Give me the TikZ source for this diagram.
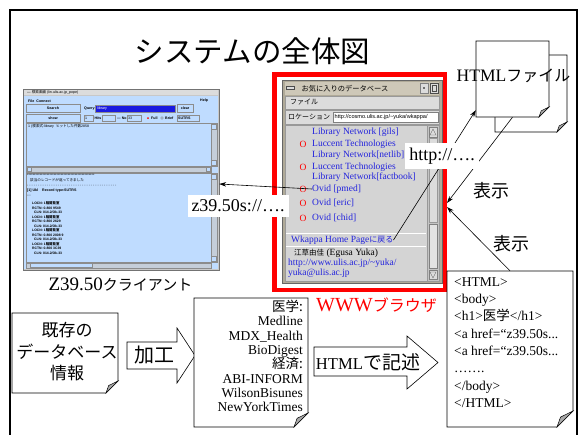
\documentclass[tikz,border=0pt]{standalone}
\usepackage{fontspec}
\setmainfont{Liberation Serif}
\newfontfamily\jp{Noto Sans CJK JP}
\newfontfamily\uisans{Liberation Sans}
\usetikzlibrary{arrows.meta}
\definecolor{clientbg}{HTML}{BFDCFF}
\definecolor{qblue}{HTML}{1A1AE0}
\definecolor{uigray}{HTML}{C8C8C8}
\definecolor{winframe}{HTML}{B0AA98}
\definecolor{titlebg}{HTML}{CEC8B8}
\definecolor{barbg}{HTML}{DCDCDC}
\definecolor{contentbg}{HTML}{D4D4D4}
\definecolor{scrollbg}{HTML}{C4C4C4}
\definecolor{linkblue}{HTML}{2222DD}
\definecolor{foldgray}{HTML}{A8A8A8}
\newcommand\cjkt[2]{{\jp\fontsize{#1}{#1}\selectfont #2}}
\newcommand\latt[2]{{\fontsize{#1}{#1}\selectfont #2}}
% name, x1, y1, x2, y2, corner
\newcommand\dogdoc[6]{%
  \filldraw[doc] (#2,#3) -- (#4,#3) -- (#4,{#5-#6}) -- ({#4-#6},#5) -- (#2,#5) -- cycle;
  \filldraw[fill=foldgray, line width=0.5pt] (#4,{#5-#6}) -- ({#4-0.78*#6},{#5-0.62*#6}) -- ({#4-#6},#5) -- cycle;
  \node[minimum width={(#4-#2)*1pt}, minimum height={(#5-#3)*1pt}] (#1) at ({(#2+#4)/2},{(#3+#5)/2}) {};
}
\begin{document}
\begin{tikzpicture}[x=1pt,y=-1pt,
  every node/.style={inner sep=0pt},
  ui/.style={font=\uisans\fontsize{3.6}{4}\selectfont},
  uib/.style={font=\uisans\bfseries\fontsize{3.6}{4}\selectfont},
  btext/.style={font=\fontsize{9.5}{10}\selectfont, text=linkblue, anchor=west},
  omark/.style={font=\fontsize{9.5}{10}\selectfont, text=red},
  arr/.style={-{Stealth[length=7pt,width=4.5pt]}, line width=0.6pt},
  lbl/.style={fill=white, inner xsep=4pt, inner ysep=5pt},
  doc/.style={draw, fill=white, line width=0.6pt},
  blockarrow/.style={draw, fill=white, line width=0.6pt},
  uibox/.style={draw=black!45, line width=0.3pt},
]
\useasboundingbox (0,0) rectangle (583,434);
\fill[white] (0,0) rectangle (583,434);

% slide frame
\draw[line width=2.5pt] (10,436) -- (10,10) -- (577,10) -- (577,436);

% title
\node (title) at (252.5,51.5) {\cjkt{29.5}{システムの全体図}};

% ---------------- Z39.50 client screenshot ----------------
\node[minimum width=196pt, minimum height=181pt] (client) at (121,179.5) {};
\fill[uigray] (23,89) rectangle (219,270);
\draw[black!55, line width=0.4pt] (23,89) rectangle (219,270);
\fill[barbg] (24,90) rectangle (218,95);
\node[ui, anchor=west] (ctitle) at (27,92.5) {— {\jp 検索画面} (lin.ulis.ac.jp\_pope)};
\fill[clientbg] (24,95.5) rectangle (218,269);
\node[uib, anchor=west] (cmenu) at (28,101) {File\ \ Connect};
\node[uib, anchor=west] (chelp) at (200,101) {Help};
\filldraw[fill=clientbg, uibox] (26,104.5) rectangle (80,112.5);
\node[uib] (csearch) at (53,108.5) {Search};
\node[uib, anchor=west] (cquery) at (84,108.5) {Query:};
\filldraw[fill=qblue, uibox] (95,105) rectangle (175,112);
\node[ui, anchor=west, text=white] (clib) at (97,108.5) {library};
\filldraw[fill=clientbg, uibox] (177,104.5) rectangle (193,112.5);
\node[uib] (cclear) at (185,108.5) {clear};
\filldraw[fill=clientbg, uibox] (26,114) rectangle (80,122);
\node[uib] (cshow) at (53,118) {show};
\filldraw[fill=clientbg, uibox] (84,115) rectangle (93,121);
\node[ui, anchor=west] (cone) at (85,118) {1};
\node[uib, anchor=west] (chits) at (94.5,118) {Hits};
\filldraw[fill=clientbg, uibox] (102,115) rectangle (115,121);
\node[uib, anchor=west] (cno) at (117,118) {— No};
\filldraw[fill=clientbg, uibox] (127,115) rectangle (141,121);
\node[ui, anchor=west] (c33) at (128,118) {33};
\fill[red] (148,118) circle (1pt);
\node[uib, anchor=west] (cfull) at (151,118) {Full};
\draw[black!50, line width=0.3pt] (162,118) circle (1.3pt);
\node[uib, anchor=west] (cbrief) at (165,118) {Brief};
\filldraw[fill=clientbg, uibox] (177,115) rectangle (199,121);
\node[uib, anchor=west] (csutrs) at (178,118) {SUTRS};
% upper text area
\filldraw[fill=clientbg, uibox] (26,123) rectangle (211,166);
\filldraw[fill=uigray!70!clientbg, uibox] (211,123) rectangle (217,166);
\filldraw[fill=clientbg, uibox] (211.5,124) rectangle (216.5,129);
\filldraw[fill=clientbg, uibox] (211.5,160) rectangle (216.5,165);
\node[ui, anchor=west] (cq1) at (28,126.5) {1 ({\jp 検索式}:library\ \ {\jp ヒットした件数}2858};
\filldraw[fill=uigray!70!clientbg, uibox] (26,167) rectangle (211,172);
\filldraw[fill=clientbg, uibox] (27,167.5) rectangle (31,171.5);
\filldraw[fill=clientbg, uibox] (206,167.5) rectangle (210,171.5);
% lower text area
\filldraw[fill=clientbg, uibox] (26,173) rectangle (211,262);
\filldraw[fill=uigray!70!clientbg, uibox] (211,173) rectangle (217,262);
\filldraw[fill=clientbg, uibox] (211.5,174) rectangle (216.5,179);
\filldraw[fill=clientbg, uibox] (211.5,256) rectangle (216.5,261);
\filldraw[fill=uigray!70!clientbg, uibox] (26,263) rectangle (211,268);
\filldraw[fill=clientbg, uibox] (30,263.5) rectangle (92,267.5);
\node[ui, anchor=west] (cl1) at (27,175.5) {************************************************};
\node[ui, anchor=west] (cl2) at (30,180.5) {{\jp 該当のレコードが返ってきました}};
\node[ui, anchor=west] (cl3) at (27,185.5) {- - - - - - - - - - - - - - - - - - - - - - - - - - - - - - - - - - - - - - - - -};
\node[uib, anchor=west] (cl4) at (27,191) {[1] Ukl\ \ \ \ Record type:SUTRS};
\node[ui, anchor=west] (cl5) at (27,196) {---};
\node[uib, anchor=west, align=left, font=\uisans\bfseries\fontsize{3.4}{4.5}\selectfont] (cl6) at (32,228) {LOCN: 1{\jp 階閲覧室}\\RCTN: 0.800 9549\\\ \ CLN: 014.2/Ok-33\\LOCN: 1{\jp 階閲覧室}\\RCTN: 0.800 2629\\\ \ CLN: 014.2/Ok-33\\LOCN: 1{\jp 階閲覧室}\\RCTN: 0.800 2008 9\\\ \ CLN: 014.2/Ok-33\\LOCN: 1{\jp 階閲覧室}\\RCTN: 0.800 3C39\\\ \ CLN: 014.2/Ok-33};

\node[anchor=center] (clientcap) at (120.5,285) {\latt{19}{Z39.50}\cjkt{15}{クライアント}};

% ---------------- WWW browser ----------------
\node[draw=red, line width=4.5pt, minimum width=170.5pt, minimum height=215.5pt] (www) at (359.5,182) {};
\node[minimum width=160pt, minimum height=203pt] (browser) at (362,181.5) {};
\fill[winframe] (282,80) rectangle (442,283);
\draw[black!60, line width=0.5pt] (282,80) rectangle (442,283);
\fill[titlebg] (285,82) rectangle (439,95);
\filldraw[fill=barbg, draw=black!70, line width=0.4pt] (286,86) rectangle (294,89.5);
\filldraw[fill=barbg, draw=black!50, line width=0.4pt] (420,83) rectangle (428,93);
\fill[black] (424,88) circle (0.9pt);
\filldraw[fill=barbg, draw=black!70, line width=0.4pt] (430,83) rectangle (438,93);
\draw[black!70, line width=0.4pt] (432,85) rectangle (436,91);
\node (btitle) at (345,88.5) {\cjkt{7.25}{お気に入りのデータベース}};
\filldraw[fill=barbg, draw=black!40, line width=0.4pt] (285,96) rectangle (439,109);
\node[anchor=west] (bmenu) at (290,102.5) {\cjkt{7}{ファイル}};
\filldraw[fill=barbg, draw=black!40, line width=0.4pt] (285,110) rectangle (439,124);
\node[anchor=west] (bloc) at (288,117) {\cjkt{7}{ロケーション}};
\filldraw[fill=white, draw=black!50, line width=0.4pt] (333,112) rectangle (438,122);
\begin{scope}
  \clip (333,112) rectangle (438,122);
  \node[anchor=west, font=\uisans\fontsize{5.6}{6}\selectfont] (burl) at (334.5,117) {http://cosmo.ulis.ac.jp/\textasciitilde yuka/wkappa/};
\end{scope}
\filldraw[fill=contentbg, draw=black!40, line width=0.4pt] (285,125) rectangle (427,281);
\filldraw[fill=scrollbg, draw=black!40, line width=0.4pt] (427,125) rectangle (439,281);
\filldraw[fill=barbg, draw=black!50, line width=0.4pt] (429,127) rectangle (437,137);
\draw[black!60, line width=0.4pt] (430,135) -- (433,129) -- (436,135) -- cycle;
\filldraw[fill=barbg, draw=black!40, line width=0.4pt] (429,138) rectangle (437,222);
\filldraw[fill=barbg!80!white, draw=black!50, line width=0.4pt] (429,224) rectangle (437,268);
\filldraw[fill=barbg, draw=black!50, line width=0.4pt] (429,270) rectangle (437,279);
\draw[black!60, line width=0.4pt] (430,272) -- (433,278) -- (436,272) -- cycle;
\draw[white, line width=0.8pt] (286,233) -- (426,233);
\draw[white, line width=0.8pt] (286,246) -- (426,246);

\node[btext] (gils) at (312,132) {Library Network [gils]};
\node[omark] (o1) at (303,144) {O};
\node[btext] (luc1) at (312,144) {Luccent Technologies};
\node[btext] (netlib) at (312,155) {Library Network[netlib]};
\node[omark] (o2) at (303,167) {O};
\node[btext] (luc2) at (312,167) {Luccent Technologies};
\node[btext] (factbook) at (312,177.5) {Library Network[factbook]};
\node[omark] (o3) at (303,189) {O};
\node[btext] (ovid) at (312,189) {Ovid [pmed]};
\node[omark] (o4) at (303,203) {O};
\node[btext] (eric) at (312,203) {Ovid [eric]};
\node[omark] (o5) at (303,218) {O};
\node[btext] (chid) at (312,218) {Ovid [chid]};
\node[btext] (wkappa) at (291,240) {Wkappa Home Page\cjkt{8}{に戻る}};
\node[anchor=west] (egusa) at (294,253) {\cjkt{7.5}{江草由佳}\latt{9.5}{ (Egusa Yuka)}};
\node[btext] (url) at (288,263) {http://www.ulis.ac.jp/\textasciitilde yuka/};
\node[btext] (mail) at (288,273) {yuka@ulis.ac.jp};

\node[text=red] (wwwcap) at (376.5,305) {\latt{20}{WWW}\cjkt{16}{ブラウザ}};

% ---------------- HTML files ----------------
\dogdoc{htmlback}{495}{55}{567}{132}{10}
\dogdoc{html1}{476}{41}{549}{117}{10}
\node (htmlcap) at (513.5,76) {\latt{17.5}{HTML}\cjkt{16}{ファイル}};

% ---------------- bottom row ----------------
\dogdoc{kizon}{12}{313}{118}{393}{12}
\node[align=center, font=\jp\fontsize{17}{21.5}\selectfont] (kizontext) at (67,352) {既存の\\データベース\\情報};

\filldraw[blockarrow] (127,342) -- (177,342) -- (177,328) -- (195,355.5) -- (177,383) -- (177,369) -- (127,369) -- cycle;
\node (kakou) at (154,355.5) {\cjkt{20}{加工}};

\dogdoc{med}{194}{298}{308}{427}{14}
\node[anchor=east, align=right, font=\fontsize{13.5}{14.3}\selectfont] (medtext) at (303,356) {\cjkt{13.5}{医学:}\\Medline\\MDX\_Health\\BioDigest\\\cjkt{13.5}{経済:}\\ABI-INFORM\\WilsonBisunes\\NewYorkTimes};

\filldraw[blockarrow] (314,347) -- (407,347) -- (407,336) -- (438,362.5) -- (407,389) -- (407,376) -- (314,376) -- cycle;
\node (htmlw) at (368,362) {\latt{16.6}{HTML}\cjkt{19}{で記述}};

\dogdoc{code}{447}{271}{573}{427}{16}
\node[anchor=west, align=left, font=\fontsize{13.5}{17.3}\selectfont] (codetext) at (454,342.5) {<HTML>\\<body>\\<h1>\cjkt{13.5}{医学}</h1>\\<a href=“z39.50s...\\<a href=“z39.50s...\\…….\\</body>\\</HTML>};

% ---------------- connectors ----------------
\draw[arr] (ovid.west) -- ([yshift=-4.5pt]client.east);
\draw[arr] (wkappa.east) -- ([yshift=7pt]html1.south west);
\draw[arr] (html1.south) -- ([yshift=-21pt]www.east);
\draw[arr] (code.north) -- ([yshift=-25pt]www.east);

\node[lbl] (httplbl) at (442,156) {\latt{18}{http://….}};
\node[lbl] (z39lbl) at (238,206) {\latt{18}{z39.50s://….}};
\node (show1) at (491.5,191) {\cjkt{18}{表示}};
\node (show2) at (511,244) {\cjkt{18}{表示}};
\end{tikzpicture}
\end{document}
